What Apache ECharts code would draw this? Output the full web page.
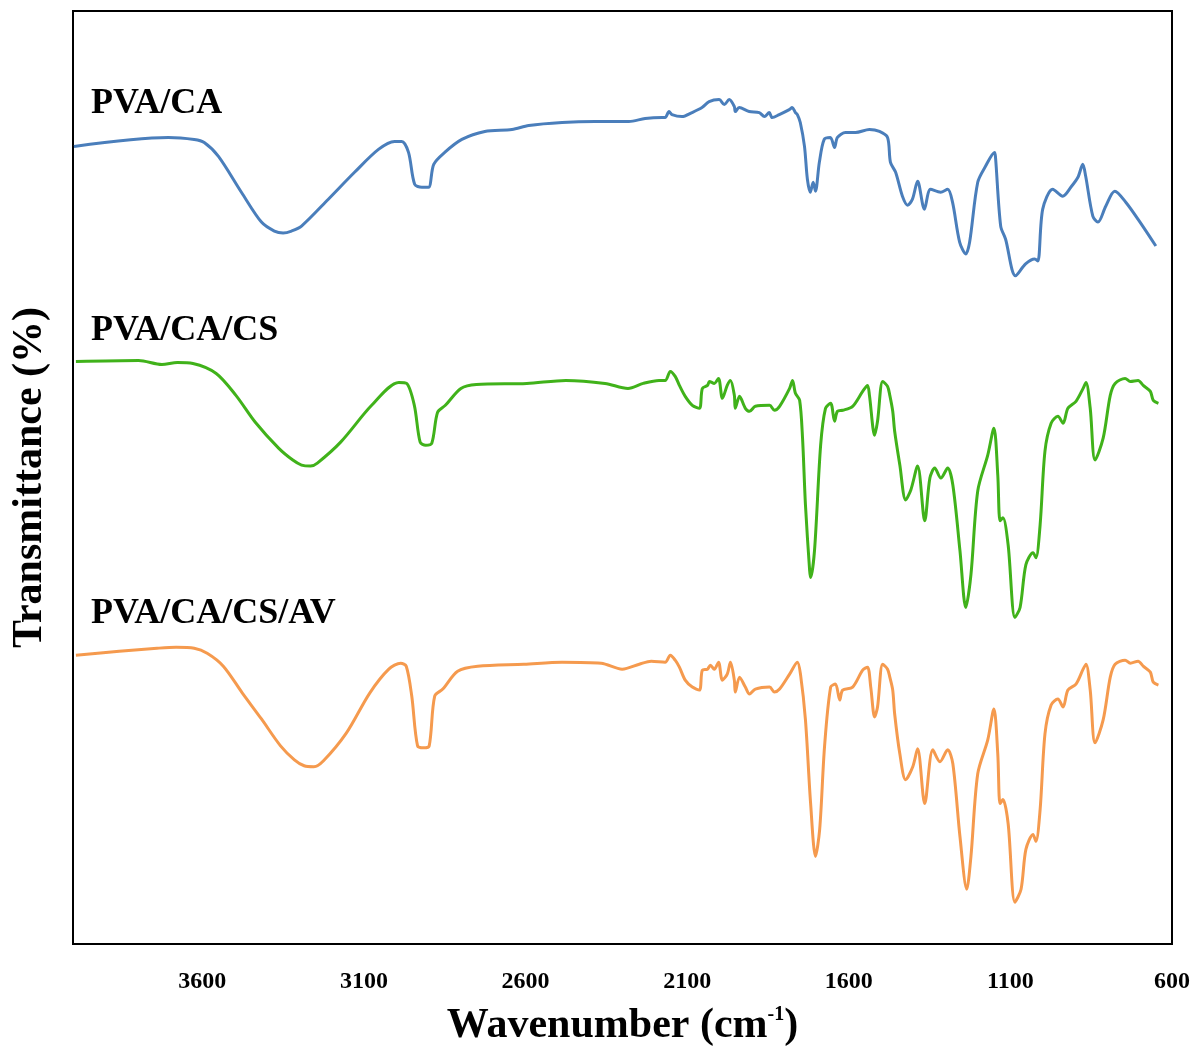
<!DOCTYPE html>
<html>
<head>
<meta charset="utf-8">
<script src="https://cdn.jsdelivr.net/npm/echarts@6/dist/echarts.min.js"></script>
<style>
html,body{margin:0;padding:0;background:#fff;}
#chart{width:1198px;height:1052px;}
</style>
</head>
<body>
<div id="chart"></div>
<script>
// Tick labels on the wavenumber axis
const xTicks = [3600, 3100, 2600, 2100, 1600, 1100, 600];
const seriesNames = ['PVA/CA', 'PVA/CA/CS', 'PVA/CA/CS/AV'];

// [wavenumber (cm-1), transmittance (a.u., offset)]
const pvaCA = [
[3997,80.1],[3705,81.0],[3625,80.8],[3594,80.5],[3550,79.1],[3479,75.5],[3417,72.5],[3377,71.6],[3350,71.4],[3324,71.6],[3293,72.1],
[3210,74.8],[3129,77.5],[3055,79.8],[3005,80.6],[2983,80.6],[2962,79.5],[2943,76.3],[2921,76.0],[2900,76.0],[2884,78.3],
[2850,79.5],[2797,80.8],[2726,81.6],[2642,81.8],[2590,82.2],[2487,82.5],[2385,82.6],[2280,82.6],[2230,82.9],[2178,83.0],
[2168,83.0],[2156,83.6],[2147,83.3],[2116,83.1],[2085,83.5],[2054,84.0],[2032,84.6],[2001,84.8],[1985,84.3],[1970,84.8],
[1954,84.1],[1951,83.6],[1939,84.0],[1908,83.6],[1877,83.5],[1861,83.1],[1846,83.5],[1837,83.0],[1815,83.3],[1784,83.8],
[1775,84.0],[1765,83.5],[1759,83.3],[1750,82.5],[1737,80.1],[1728,76.8],[1719,75.5],[1710,76.5],[1703,75.6],[1691,78.5],
[1676,80.8],[1657,81.0],[1644,80.0],[1635,81.0],[1610,81.5],[1579,81.5],[1536,81.8],[1505,81.6],[1480,81.0],[1471,78.5],
[1455,77.5],[1434,75.1],[1418,74.2],[1403,74.8],[1387,76.6],[1366,73.8],[1347,75.8],[1316,75.5],[1294,75.8],[1279,74.5],
[1257,70.5],[1238,69.3],[1226,70.5],[1201,76.5],[1177,78.1],[1149,79.5],[1146,79.0],[1130,72.1],[1115,70.8],[1084,67.1],
[1053,68.3],[1025,68.8],[1015,68.6],[1000,73.8],[969,75.8],[938,75.1],[913,76.0],[891,77.0],[876,78.3],[867,77.1],
[845,73.1],[829,72.5],[805,74.1],[777,75.6],[743,74.5],[699,72.5],[650,70.1]
];

const pvaCACS = [
[3991,58.5],[3797,58.6],[3725,58.2],[3677,58.4],[3629,58.3],[3557,57.3],[3496,55.1],[3436,52.4],[3364,49.8],[3320,48.6],[3293,48.1],
[3265,48.0],[3244,48.3],[3172,50.4],[3076,54.1],[2992,56.4],[2968,56.3],[2944,54.1],[2926,50.4],[2909,50.1],[2890,50.3],[2872,53.4],
[2848,54.1],[2800,55.8],[2752,56.2],[2596,56.3],[2475,56.6],[2354,56.3],[2283,55.8],[2236,56.3],[2187,56.6],[2168,56.6],
[2152,57.5],[2137,57.0],[2124,56.1],[2106,55.0],[2084,54.1],[2062,53.8],[2053,55.8],[2037,56.1],[2031,56.5],[2016,56.3],
[2003,56.8],[1991,54.8],[1976,56.1],[1966,56.6],[1954,55.1],[1951,53.8],[1938,55.0],[1920,53.8],[1907,53.5],[1889,54.0],
[1845,54.1],[1830,53.6],[1814,54.0],[1783,55.8],[1774,56.6],[1765,55.3],[1752,54.6],[1743,50.8],[1734,44.1],[1721,37.5],
[1718,36.8],[1706,39.5],[1687,50.1],[1672,53.8],[1656,54.3],[1644,52.5],[1635,53.5],[1619,53.6],[1588,54.0],[1557,55.5],
[1542,56.1],[1536,55.1],[1520,51.1],[1511,52.5],[1495,56.5],[1480,56.0],[1473,55.1],[1464,53.5],[1458,51.5],[1442,48.1],
[1424,44.6],[1408,45.6],[1387,48.0],[1365,42.5],[1349,46.8],[1334,47.8],[1315,46.8],[1294,47.8],[1278,46.1],[1256,39.5],
[1238,33.8],[1222,37.1],[1201,45.5],[1170,49.1],[1151,51.8],[1139,47.1],[1132,42.5],[1123,42.8],[1107,40.1],[1086,32.8],
[1070,33.8],[1052,38.1],[1030,39.3],[1021,38.8],[1008,42.1],[993,49.5],[974,52.3],[953,53.0],[937,52.3],[922,53.8],
[897,54.5],[875,55.8],[866,56.4],[853,53.8],[838,48.6],[813,50.8],[791,55.1],[776,56.3],[745,56.8],[729,56.5],
[705,56.6],[689,56.1],[667,55.5],[658,54.6],[642,54.3]
];

const pvaCACSAV = [
[3991,29.0],[3857,29.4],[3740,29.7],[3681,29.8],[3625,29.7],[3585,29.2],[3535,27.9],[3476,25.2],[3417,22.6],[3358,19.9],
[3315,18.5],[3285,17.9],[3255,17.8],[3225,18.4],[3154,21.2],[3082,25.2],[3023,27.6],[2986,28.2],[2969,27.9],[2952,24.9],[2934,19.9],[2915,19.7],
[2898,19.9],[2881,24.9],[2856,25.6],[2810,27.4],[2748,27.9],[2605,28.1],[2487,28.3],[2366,28.2],[2301,27.6],[2248,28.1],
[2211,28.4],[2168,28.3],[2152,29.0],[2137,28.5],[2124,27.8],[2106,26.5],[2084,25.8],[2062,25.5],[2053,27.5],[2037,27.6],
[2028,28.0],[2016,27.6],[2003,28.3],[1991,26.5],[1976,27.1],[1966,28.3],[1954,26.5],[1951,25.3],[1938,26.8],[1920,25.8],
[1907,25.1],[1889,25.6],[1845,25.8],[1830,25.3],[1814,25.6],[1783,27.1],[1759,28.3],[1749,27.0],[1734,22.5],[1718,14.1],
[1703,8.8],[1690,11.5],[1675,19.8],[1656,25.8],[1641,26.1],[1628,24.5],[1619,25.5],[1588,25.8],[1557,27.5],[1542,27.8],
[1532,25.8],[1520,22.8],[1511,23.8],[1495,28.1],[1480,27.6],[1473,26.8],[1464,25.5],[1458,23.1],[1442,19.1],[1424,16.5],
[1402,17.8],[1387,19.6],[1365,14.1],[1340,19.5],[1318,18.3],[1294,19.5],[1278,18.1],[1256,10.8],[1235,5.5],[1222,8.8],
[1201,17.1],[1170,20.5],[1151,23.6],[1139,19.1],[1132,14.1],[1123,14.5],[1107,12.1],[1086,4.2],[1067,5.5],[1052,9.5],
[1030,11.0],[1021,10.3],[1008,13.5],[993,21.1],[974,24.0],[953,24.6],[937,23.8],[922,25.5],[897,26.1],[875,27.6],
[866,28.1],[853,25.5],[838,20.2],[813,22.5],[791,26.8],[776,28.1],[745,28.5],[729,28.2],[705,28.4],[689,27.9],
[667,27.3],[658,26.3],[642,26.0]
];

const colors = ['#4a7ebb', '#40b21a', '#f59a4e'];
const serif = "'Times New Roman', 'Liberation Serif', serif";
const labelFont = "bold 36px 'Times New Roman', 'Liberation Serif', serif";

const chart = echarts.init(document.getElementById('chart'), null, {renderer: 'canvas'});

function mkSeries(name, data, color) {
  return {
    name: name,
    type: 'line',
    data: data,
    showSymbol: false,
    smooth: 0.3,
    lineStyle: {color: color, width: 3},
    itemStyle: {color: color},
    animation: false
  };
}

chart.setOption({
  backgroundColor: '#fff',
  animation: false,
  grid: {left: 73, right: 26, top: 11, bottom: 104, show: true, borderColor: '#000', borderWidth: 2, containLabel: false},
  xAxis: {
    type: 'value',
    min: 600,
    max: 4000,
    inverse: true,
    name: 'Wavenumber (cm{sup|-1})',
    nameLocation: 'middle',
    nameGap: 61,
    nameTextStyle: {
      fontFamily: serif, fontWeight: 'bold', fontSize: 42, color: '#000',
      rich: {sup: {fontFamily: serif, fontWeight: 'bold', fontSize: 20, color: '#000', verticalAlign: 'top', padding: [0, 0, 18, 0]}}
    },
    axisLine: {show: true, lineStyle: {color: '#000', width: 2}},
    axisTick: {show: false},
    splitLine: {show: false},
    axisLabel: {
      customValues: xTicks,
      formatter: function (v) { return String(v); },
      fontFamily: serif, fontWeight: 'bold', fontSize: 24, color: '#000', margin: 26
    }
  },
  yAxis: {
    type: 'value',
    min: 0,
    max: 93.7,
    name: 'Transmittance (%)',
    nameLocation: 'middle',
    nameGap: 22,
    nameTextStyle: {fontFamily: serif, fontWeight: 'bold', fontSize: 42, color: '#000'},
    axisLine: {show: true, lineStyle: {color: '#000', width: 2}},
    axisTick: {show: false},
    axisLabel: {show: false},
    splitLine: {show: false}
  },
  graphic: [
    {type: 'text', left: 91, top: 86, style: {text: seriesNames[0], font: labelFont, fill: '#000'}},
    {type: 'text', left: 91, top: 313, style: {text: seriesNames[1], font: labelFont, fill: '#000'}},
    {type: 'text', left: 91, top: 596, style: {text: seriesNames[2], font: labelFont, fill: '#000'}}
  ],
  series: [
    mkSeries(seriesNames[0], pvaCA, colors[0]),
    mkSeries(seriesNames[1], pvaCACS, colors[1]),
    mkSeries(seriesNames[2], pvaCACSAV, colors[2])
  ]
});
</script>
</body>
</html>
